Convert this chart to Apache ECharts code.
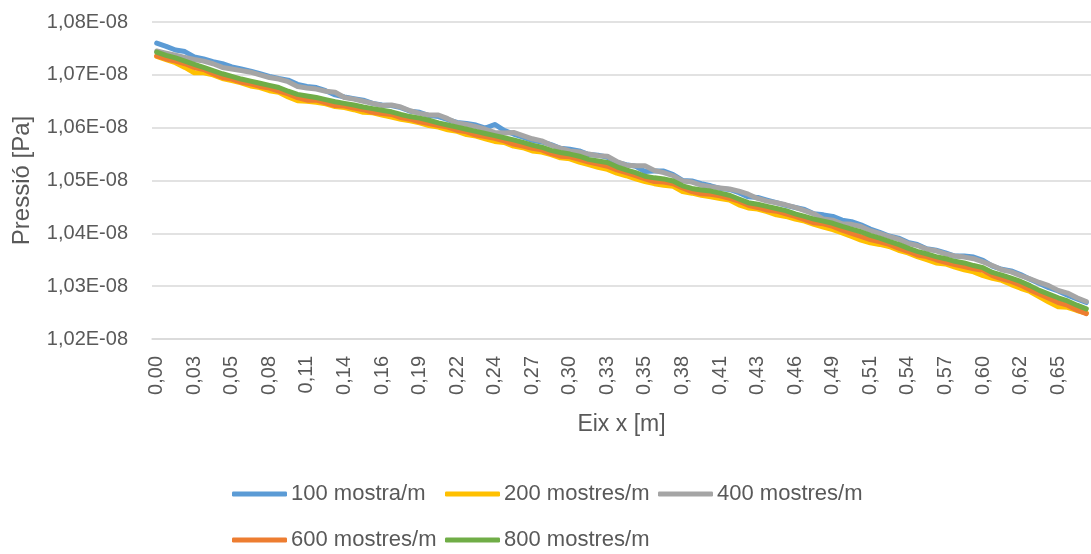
<!DOCTYPE html>
<html>
<head>
<meta charset="utf-8">
<script src="https://cdn.jsdelivr.net/npm/echarts@6/dist/echarts.min.js"></script>
<style>
html,body{margin:0;padding:0;background:#fff;}
#chart{width:1091px;height:554px;}
</style>
</head>
<body>
<div id="chart"></div>
<script>
// Sampling grid along x (m): 100 points, step ~0.006773 m
const X_STEP = 0.006773;
const X_COUNT = 100;
const categories = Array.from({length: X_COUNT}, (_, i) => (i * X_STEP).toFixed(2).replace('.', ','));

// Pressure values in units of 1E-08 Pa
const s100 = [1.0760,1.0754,1.0747,1.0744,1.0734,1.0730,1.0725,1.0721,1.0715,1.0711,
1.0707,1.0702,1.0697,1.0693,1.0690,1.0682,1.0678,1.0676,1.0670,1.0662,
1.0658,1.0655,1.0652,1.0646,1.0643,1.0642,1.0638,1.0631,1.0629,1.0623,
1.0621,1.0615,1.0610,1.0608,1.0605,1.0599,1.0606,1.0595,1.0588,1.0582,
1.0576,1.0573,1.0568,1.0561,1.0559,1.0556,1.0549,1.0548,1.0544,1.0534,
1.0530,1.0527,1.0517,1.0518,1.0518,1.0511,1.0500,1.0499,1.0494,1.0490,
1.0485,1.0483,1.0477,1.0469,1.0468,1.0463,1.0458,1.0453,1.0449,1.0445,
1.0437,1.0435,1.0432,1.0425,1.0422,1.0416,1.0408,1.0402,1.0395,1.0391,
1.0383,1.0379,1.0371,1.0368,1.0363,1.0357,1.0357,1.0355,1.0349,1.0338,
1.0332,1.0329,1.0322,1.0313,1.0305,1.0297,1.0291,1.0283,1.0276,1.0269];

const s200 = [1.0735,1.0729,1.0723,1.0714,1.0704,1.0704,1.0700,1.0693,1.0689,1.0685,
1.0679,1.0676,1.0670,1.0667,1.0658,1.0651,1.0650,1.0648,1.0645,1.0640,
1.0638,1.0634,1.0629,1.0628,1.0624,1.0620,1.0616,1.0613,1.0609,1.0604,
1.0601,1.0596,1.0593,1.0587,1.0584,1.0579,1.0574,1.0572,1.0565,1.0562,
1.0556,1.0554,1.0549,1.0543,1.0541,1.0535,1.0530,1.0525,1.0521,1.0514,
1.0509,1.0503,1.0498,1.0494,1.0491,1.0489,1.0479,1.0476,1.0472,1.0469,
1.0466,1.0463,1.0454,1.0448,1.0446,1.0441,1.0435,1.0432,1.0427,1.0423,
1.0417,1.0412,1.0407,1.0401,1.0394,1.0387,1.0382,1.0379,1.0375,1.0368,
1.0363,1.0356,1.0350,1.0344,1.0342,1.0336,1.0331,1.0327,1.0320,1.0315,
1.0311,1.0303,1.0296,1.0290,1.0280,1.0270,1.0261,1.0260,1.0254,1.0249];

const s400 = [1.0745,1.0741,1.0737,1.0733,1.0729,1.0726,1.0721,1.0714,1.0711,1.0708,
1.0705,1.0700,1.0695,1.0692,1.0687,1.0678,1.0675,1.0673,1.0669,1.0667,
1.0657,1.0654,1.0650,1.0646,1.0642,1.0643,1.0639,1.0632,1.0627,1.0624,
1.0624,1.0617,1.0609,1.0606,1.0602,1.0597,1.0591,1.0590,1.0591,1.0585,
1.0579,1.0575,1.0567,1.0561,1.0556,1.0554,1.0550,1.0547,1.0546,1.0536,
1.0529,1.0528,1.0528,1.0519,1.0515,1.0509,1.0499,1.0497,1.0491,1.0488,
1.0486,1.0484,1.0480,1.0474,1.0466,1.0461,1.0458,1.0454,1.0449,1.0443,
1.0437,1.0427,1.0425,1.0418,1.0417,1.0413,1.0405,1.0400,1.0394,1.0389,
1.0381,1.0377,1.0370,1.0367,1.0361,1.0357,1.0355,1.0352,1.0346,1.0339,
1.0331,1.0327,1.0320,1.0314,1.0307,1.0301,1.0292,1.0287,1.0278,1.0271];

const s600 = [1.0736,1.0730,1.0726,1.0721,1.0714,1.0710,1.0702,1.0695,1.0692,1.0686,
1.0683,1.0678,1.0675,1.0669,1.0664,1.0657,1.0652,1.0652,1.0647,1.0642,
1.0641,1.0637,1.0634,1.0629,1.0627,1.0625,1.0619,1.0616,1.0611,1.0608,
1.0604,1.0601,1.0595,1.0592,1.0586,1.0583,1.0580,1.0575,1.0569,1.0565,
1.0561,1.0558,1.0551,1.0546,1.0545,1.0540,1.0535,1.0531,1.0527,1.0520,
1.0515,1.0509,1.0503,1.0498,1.0497,1.0494,1.0486,1.0479,1.0475,1.0474,
1.0471,1.0466,1.0461,1.0453,1.0449,1.0444,1.0442,1.0437,1.0432,1.0426,
1.0420,1.0418,1.0413,1.0406,1.0400,1.0394,1.0388,1.0384,1.0379,1.0372,
1.0366,1.0359,1.0356,1.0350,1.0345,1.0341,1.0337,1.0333,1.0330,1.0320,
1.0314,1.0309,1.0302,1.0293,1.0285,1.0277,1.0269,1.0264,1.0255,1.0248];

const s800 = [1.0743,1.0737,1.0732,1.0726,1.0720,1.0714,1.0708,1.0702,1.0697,1.0692,
1.0688,1.0684,1.0680,1.0676,1.0669,1.0663,1.0660,1.0657,1.0653,1.0649,
1.0646,1.0643,1.0639,1.0636,1.0633,1.0630,1.0625,1.0621,1.0618,1.0614,
1.0609,1.0605,1.0601,1.0597,1.0593,1.0589,1.0585,1.0581,1.0577,1.0572,
1.0567,1.0563,1.0557,1.0553,1.0550,1.0546,1.0540,1.0537,1.0534,1.0526,
1.0520,1.0515,1.0508,1.0505,1.0503,1.0499,1.0490,1.0485,1.0482,1.0480,
1.0476,1.0472,1.0465,1.0458,1.0455,1.0451,1.0447,1.0443,1.0437,1.0432,
1.0427,1.0423,1.0419,1.0413,1.0408,1.0403,1.0396,1.0391,1.0385,1.0379,
1.0372,1.0366,1.0361,1.0356,1.0352,1.0347,1.0344,1.0339,1.0335,1.0326,
1.0321,1.0315,1.0309,1.0301,1.0292,1.0285,1.0278,1.0272,1.0264,1.0257];

const seriesNames = ['100 mostra/m','200 mostres/m','400 mostres/m','600 mostres/m','800 mostres/m'];
const seriesData = [s100, s200, s400, s600, s800];
const seriesColors = ['#5B9BD5','#FFC000','#A5A5A5','#ED7D31','#70AD47'];

const Y_MIN = 1.02, Y_MAX = 1.08, Y_STEP = 0.01;
const Y_SUFFIX = 'E-08';

const FONT = '"Liberation Sans", Arial, sans-serif';
const TXT = '#595959';

const legendPos = [[232,483],[445,483],[658,483],[232,529],[445,529]];

const chart = echarts.init(document.getElementById('chart'), null, {renderer:'canvas'});
chart.setOption({
  animation: false,
  backgroundColor: '#ffffff',
  textStyle: {fontFamily: FONT},
  grid: {left: 152, top: 22, width: 942, height: 317, containLabel: false},
  xAxis: {
    type: 'category',
    data: categories,
    boundaryGap: true,
    name: 'Eix x [m]',
    nameLocation: 'middle',
    nameGap: 74,
    nameTextStyle: {fontSize: 23, color: TXT, fontFamily: FONT},
    axisLine: {show: true, lineStyle: {color: '#D9D9D9', width: 1.5}},
    axisTick: {show: false},
    axisLabel: {interval: 3, rotate: 90, fontSize: 20, color: TXT, margin: 17, fontFamily: FONT},
    splitLine: {show: false}
  },
  yAxis: {
    type: 'value',
    min: Y_MIN, max: Y_MAX, interval: Y_STEP,
    name: 'Pressió [Pa]',
    nameLocation: 'middle',
    nameGap: 118,
    nameTextStyle: {fontSize: 24, color: TXT, fontFamily: FONT},
    axisLine: {show: false},
    axisTick: {show: false},
    axisLabel: {
      fontSize: 20, color: TXT, margin: 24, fontFamily: FONT,
      formatter: v => v.toFixed(2).replace('.', ',') + Y_SUFFIX
    },
    splitLine: {show: true, lineStyle: {color: '#D9D9D9', width: 1.5}}
  },
  legend: seriesNames.map((n, i) => ({
    data: [n],
    left: legendPos[i][0], top: legendPos[i][1],
    padding: 0,
    icon: 'roundRect',
    itemWidth: 55, itemHeight: 5,
    textStyle: {fontSize: 22, color: TXT, fontFamily: FONT, padding: [0,0,0,-1]}
  })),
  series: seriesNames.map((n, i) => ({
    name: n,
    type: 'line',
    data: seriesData[i],
    symbol: 'none',
    smooth: false,
    color: seriesColors[i],
    lineStyle: {width: 5, color: seriesColors[i], join: 'round', cap: 'round'},
    emphasis: {disabled: true}
  }))
});
</script>
</body>
</html>
